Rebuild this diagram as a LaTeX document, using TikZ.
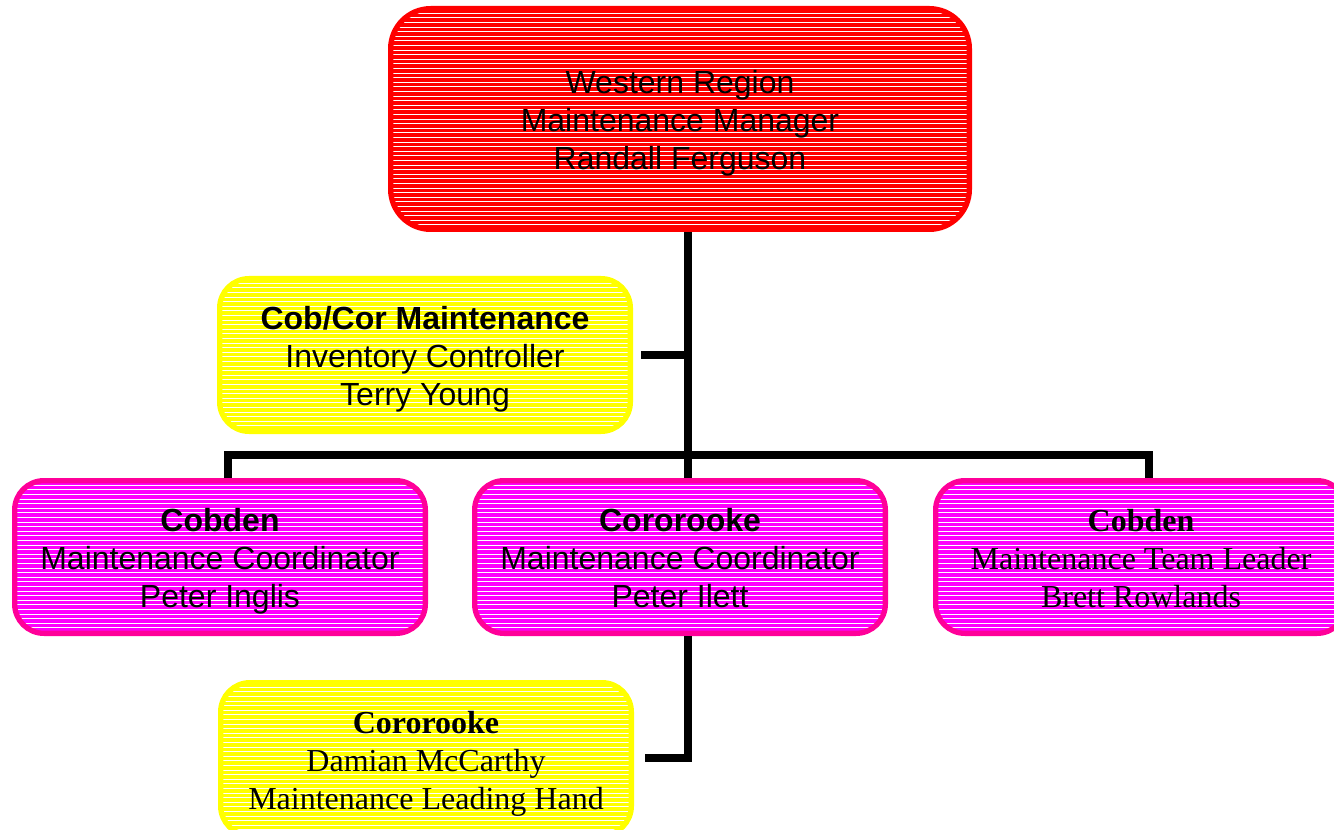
\documentclass[tikz,border=0pt]{standalone}
\usepackage{fontspec}
\setmainfont{Liberation Sans}
\newfontfamily\timesfamily{Liberation Serif}
\usepackage{xcolor}
\usetikzlibrary{positioning}

\definecolor{mgrred}{RGB}{255,0,0}
\definecolor{invyellow}{RGB}{255,255,0}
\definecolor{coordpink}{RGB}{255,0,255}
\definecolor{pinkedge}{RGB}{255,0,153}

\begin{document}
\begin{tikzpicture}[ x = 0.75pt
                     , y = -0.75pt
                     , font = \fontsize{24}{28.5}\selectfont
                     , box/.style = { rectangle
                                    , rounded corners = 22pt
                                    , align = center
                                    , inner sep = 0pt
                                    , line width = 4pt
                                    , text height = 80pt
                                    , text depth = 4pt
                                    , minimum width = 308pt
                                    , minimum height = 114.5pt
                                    , path picture = {
                                        \foreach \k in {1,...,50}
                                          \draw[white, line width = 0.7pt]
                                            ([yshift = -\k*3.45pt]path picture bounding box.north west)
                                            -- ++(500pt,0);
                                      } }
                     , redbox/.style = { box, draw = mgrred, fill = mgrred
                                       , rounded corners = 30pt
                                       , minimum width = 434pt
                                       , minimum height = 165.5pt }
                     , yellowbox/.style = { box, draw = invyellow, fill = invyellow }
                     , pinkbox/.style = { box, draw = pinkedge, fill = coordpink }
                     , serifbox/.style = { font = \timesfamily\fontsize{24}{28.5}\selectfont }
                     , link/.style = { line width = 5.5pt, draw = black }
                     ]

  \useasboundingbox (0,0) rectangle (1334,830);

  \node (manager) [redbox] at (680,119)
    {Western Region\\ Maintenance Manager\\ Randall Ferguson};
  \node (inventory) [yellowbox] at (425,355)
    {\textbf{Cob/Cor Maintenance}\\ Inventory Controller\\ Terry Young};
  \node (cobcoord) [pinkbox] at (220,557)
    {\textbf{Cobden}\\ Maintenance Coordinator\\ Peter Inglis};
  \node (corcoord) [pinkbox] at (680,557)
    {\textbf{Cororooke}\\ Maintenance Coordinator\\ Peter Ilett};
  \node (leader) [pinkbox, serifbox] at (1141,557)
    {\textbf{Cobden}\\ Maintenance Team Leader\\ Brett Rowlands};
  \node (hand) [yellowbox, serifbox] at (426,759)
    {\textbf{Cororooke}\\ Damian McCarthy\\ Maintenance Leading Hand};

  % joints of the tree
  \coordinate (bus) at (688,455);
  \coordinate (busleft) at (228,455);
  \coordinate (busright) at (1149,455);
  \coordinate (invstub) at (641,355);
  \coordinate (handstub) at (645,758);

  \draw[link] (manager.south -| bus) -- (bus |- corcoord.north);
  \draw[link] (cobcoord.north -| busleft) -- (busleft) -- (busright)
    -- (busright |- leader.north);
  \draw[link] (invstub) -- (invstub -| bus);
  \draw[link] (corcoord.south -| bus) -- (bus |- handstub) -- (handstub);

\end{tikzpicture}
\end{document}
